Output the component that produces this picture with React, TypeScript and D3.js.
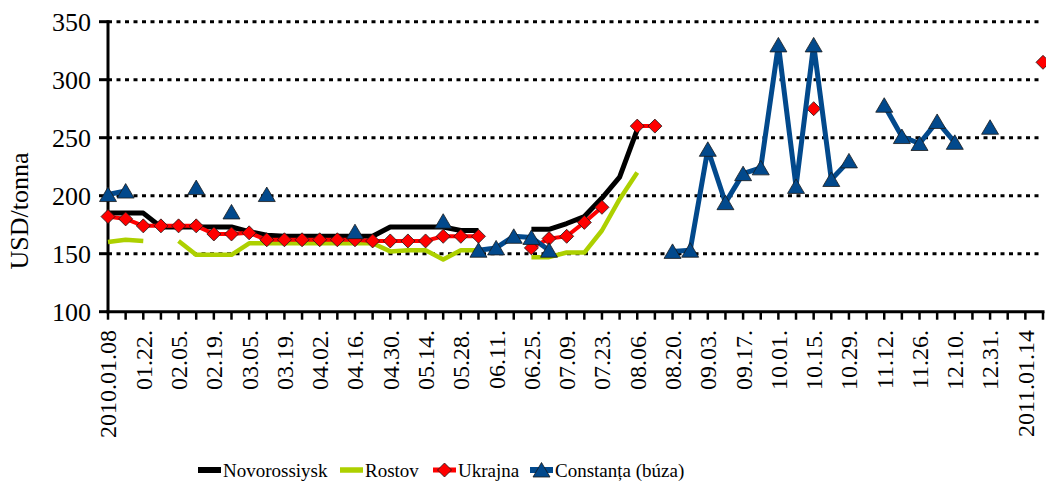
import React from 'react';
import * as d3 from 'd3';

// weekly quotation dates (one week is missing before 12.31)
const dates = [
  '2010.01.08', '2010.01.15', '2010.01.22', '2010.01.29', '2010.02.05', '2010.02.12',
  '2010.02.19', '2010.02.26', '2010.03.05', '2010.03.12', '2010.03.19', '2010.03.26',
  '2010.04.02', '2010.04.09', '2010.04.16', '2010.04.23', '2010.04.30', '2010.05.07',
  '2010.05.14', '2010.05.21', '2010.05.28', '2010.06.04', '2010.06.11', '2010.06.18',
  '2010.06.25', '2010.07.02', '2010.07.09', '2010.07.16', '2010.07.23', '2010.07.30',
  '2010.08.06', '2010.08.13', '2010.08.20', '2010.08.27', '2010.09.03', '2010.09.10',
  '2010.09.17', '2010.09.24', '2010.10.01', '2010.10.08', '2010.10.15', '2010.10.22',
  '2010.10.29', '2010.11.05', '2010.11.12', '2010.11.19', '2010.11.26', '2010.12.03',
  '2010.12.10', '2010.12.17', '2010.12.31', '2011.01.07', '2011.01.14', '2011.01.21',
];

const tickLabels = [
  '2010.01.08', '', '01.22.', '', '02.05.', '', '02.19.', '', '03.05.', '', '03.19.', '',
  '04.02.', '', '04.16.', '', '04.30.', '', '05.14.', '', '05.28.', '', '06.11.', '',
  '06.25.', '', '07.09.', '', '07.23.', '', '08.06.', '', '08.20.', '', '09.03.', '',
  '09.17.', '', '10.01.', '', '10.15.', '', '10.29.', '', '11.12.', '', '11.26.', '',
  '12.10.', '', '12.31.', '', '2011.01.14', '',
];

type V = number | null;
const _ = null;

const novorossiysk: V[] = [
  185, 185, 185, 173, 173, 173, 173, 173, 169, 166, 165, 165, 165, 165, 165, 165,
  173, 173, 173, 173, 170, 170, _, _, 171, 171, 176, 182, 198, 216, 257, _,
  _, _, _, _, _, _, _, _, _, _, _, _, _, _, _, _, _, _, _, _, _, _,
];

const rostov: V[] = [
  160, 162, 161, _, 161, 149, 149, 149, 159, 159, 159, 159, 159, 159, 159, 159,
  152, 153, 153, 145, 153, 153, _, _, 147, 147, 151, 151, 170, 197, 220, _,
  _, _, _, _, _, _, _, _, _, _, _, _, _, _, _, _, _, _, _, _, _, _,
];

const ukrajna: V[] = [
  182, 180, 174, 174, 174, 174, 167, 167, 168, 162, 162, 162, 162, 162, 162, 161,
  161, 161, 161, 165, 165, 165, _, _, 155, 163, 165, 177, 190, _, 260, 260,
  _, _, _, _, _, _, _, _, 275, _, _, _, _, _, _, _, _, _, _, _, _, 315,
];

const constanta: V[] = [
  201, 204, _, _, _, 207, _, 186, _, 201, _, _, _, _, 169, _,
  _, _, _, 178, _, 153, 155, 165, 164, 153, _, _, _, _, _, _,
  152, 153, 240, 194, 219, 224, 330, 208, 330, 214, 230, _, 278, 251, 245, 264,
  246, _, 259, _, _, _,
];

const yTicks = [100, 150, 200, 250, 300, 350];

const FONT = "'Liberation Serif', 'DejaVu Serif', serif";
const BLACK = '#000000';
const GREEN = '#add000';
const RED = '#ff0000';
const BLUE = '#02498c';

const diamond = 'M0,-7L7,0L0,7L-7,0Z';
const triangle = 'M0,-7.5L8.5,7L-8.5,7Z';

const txt = { fontFamily: FONT };

export default function App() {
  const x = d3.scalePoint<string>().domain(dates).range([108, 1043]);
  const y = d3.scaleLinear().domain([100, 350]).range([311.7, 21.7]);

  const line = d3.line<V>()
    .defined(d => d != null)
    .x((d, i) => x(dates[i]) as number)
    .y(d => y(d as number));

  const series = [
    { name: 'Novorossiysk', data: novorossiysk, color: BLACK, width: 5, marker: null },
    { name: 'Rostov', data: rostov, color: GREEN, width: 4.5, marker: null },
    { name: 'Ukrajna', data: ukrajna, color: RED, width: 4, marker: diamond },
    { name: 'Constanța (búza)', data: constanta, color: BLUE, width: 5, marker: triangle },
  ];

  const legendX = [198, 340, 433, 530];

  return (
    <svg width={1046} height={487} style={{ position: 'absolute', left: 0, top: 0, background: '#fff' }}>
      {/* gridlines */}
      {yTicks.filter(t => t > 100).map(t => (
        <line key={t} x1={108} x2={1043} y1={y(t)} y2={y(t)}
          stroke="#000" strokeWidth={3} strokeDasharray="4 4.5" />
      ))}

      {/* axes */}
      <line x1={108} x2={108} y1={y(350) - 1.5} y2={y(100) + 1.5} stroke="#000" strokeWidth={3} />
      <line x1={106.5} x2={1044.5} y1={y(100)} y2={y(100)} stroke="#000" strokeWidth={3} />
      {yTicks.map(t => (
        <g key={t}>
          <line x1={99} x2={108} y1={y(t)} y2={y(t)} stroke="#000" strokeWidth={3} />
          <text x={91} y={y(t)} dy="0.35em" textAnchor="end" fontSize={26} fill="#000" style={txt}>{t}</text>
        </g>
      ))}
      {dates.map((d, i) => (
        <g key={d}>
          <line x1={x(d)} x2={x(d)} y1={y(100)} y2={y(100) + 8} stroke="#000" strokeWidth={2.5} />
          {tickLabels[i] && (
            <text transform={`translate(${x(d)},330) rotate(-90)`} dy="0.35em" textAnchor="end"
              fontSize={24} fill="#000" style={txt}>{tickLabels[i]}</text>
          )}
        </g>
      ))}
      <text transform="translate(19,211) rotate(-90)" dy="0.35em" textAnchor="middle" fontSize={26}
        fill="#000" style={txt}>USD/tonna</text>

      {/* series */}
      {series.map(s => (
        <g key={s.name}>
          <path d={line(s.data) ?? ''} fill="none" stroke={s.color} strokeWidth={s.width}
            strokeLinejoin="round" />
          {s.marker && s.data.map((v, i) => v == null ? null : (
            <path key={i} d={s.marker as string} transform={`translate(${x(dates[i])},${y(v)})`}
              fill={s.color} stroke="#1a1a1a" strokeWidth={0.8} />
          ))}
        </g>
      ))}

      {/* legend */}
      {series.map((s, i) => (
        <g key={s.name} transform={`translate(${legendX[i]},470)`}>
          <line x1={0} x2={23} y1={0} y2={0} stroke={s.color} strokeWidth={s.width + 1} />
          {s.marker && <path d={s.marker} transform="translate(11.5,0)" fill={s.color}
            stroke="#1a1a1a" strokeWidth={0.8} />}
          <text x={25} dy="0.35em" fontSize={19} fill="#000" style={txt}>{s.name}</text>
        </g>
      ))}
    </svg>
  );
}
